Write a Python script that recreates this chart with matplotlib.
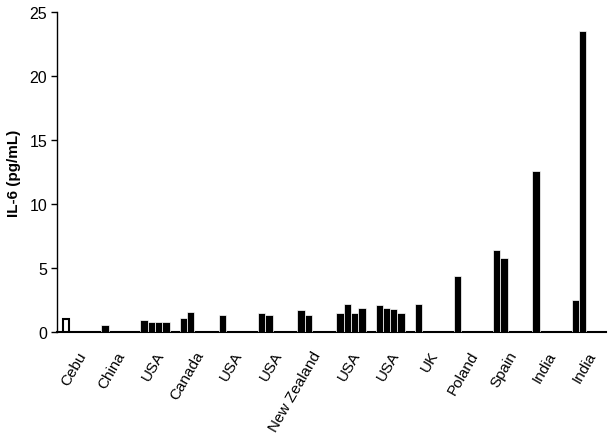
import matplotlib
matplotlib.use("Agg")
import matplotlib.pyplot as plt
import numpy as np

plt.rcParams['font.family'] = ['Liberation Sans', 'DejaVu Sans']

categories = ["Cebu", "China", "USA", "Canada", "USA", "USA", "New Zealand",
              "USA", "USA", "UK", "Poland", "Spain", "India", "India"]
nan = np.nan
series1 = [1.0, 0.55, 0.9, 1.07, 1.35, 1.45, 1.72, 1.5, 2.1, 2.18, 4.4, 6.4, 12.57, 2.5]
series2 = [nan, nan, 0.78, 1.57, nan, 1.3, 1.3, 2.18, 1.9, nan, nan, 5.8, nan, 23.5]
series3 = [nan, nan, 0.78, nan, nan, nan, nan, 1.5, 1.78, nan, nan, nan, nan, nan]
series4 = [nan, nan, 0.78, nan, nan, nan, nan, 1.9, 1.5, nan, nan, nan, nan, nan]
hollow = [True] + [False] * 13  # Cebu drawn as open bar

fig = plt.figure(figsize=(6.15, 4.39), dpi=100)
ax = fig.add_axes([0.0927, 0.2415, 0.8923, 0.7285])

x = np.arange(len(categories))
w = 0.186
for k, s in enumerate([series1, series2, series3, series4]):
    off = (k - 1.5) * w
    vals = np.array(s, dtype=float)
    for i, v in enumerate(vals):
        if np.isnan(v):
            continue
        if hollow[i]:
            ax.bar(x[i] + off, v, width=w * 0.8, color='white', edgecolor='black',
                   linewidth=1.5, zorder=3)
        else:
            ax.bar(x[i] + off, v, width=w, color='black', edgecolor='white',
                   linewidth=0.5, zorder=3)

ax.set_xlim(-0.5, len(categories) - 0.5)
ax.set_ylim(0, 25)
ax.set_yticks([0, 5, 10, 15, 20, 25])
ax.tick_params(axis='y', labelsize=11.5, direction='out', length=4, width=1, pad=3)
ax.set_xticks(x)
ax.set_xticklabels(categories, rotation=60, ha='right', rotation_mode='anchor', fontsize=11)
ax.tick_params(axis='x', length=0, pad=12)
ax.spines['top'].set_visible(False)
ax.spines['right'].set_visible(False)
ax.spines['left'].set_linewidth(1)
ax.spines['bottom'].set_linewidth(1.5)
ax.set_ylabel("IL-6 (pg/mL)", fontsize=11, fontweight='bold', labelpad=6)

fig.savefig("out.png", dpi=100)
